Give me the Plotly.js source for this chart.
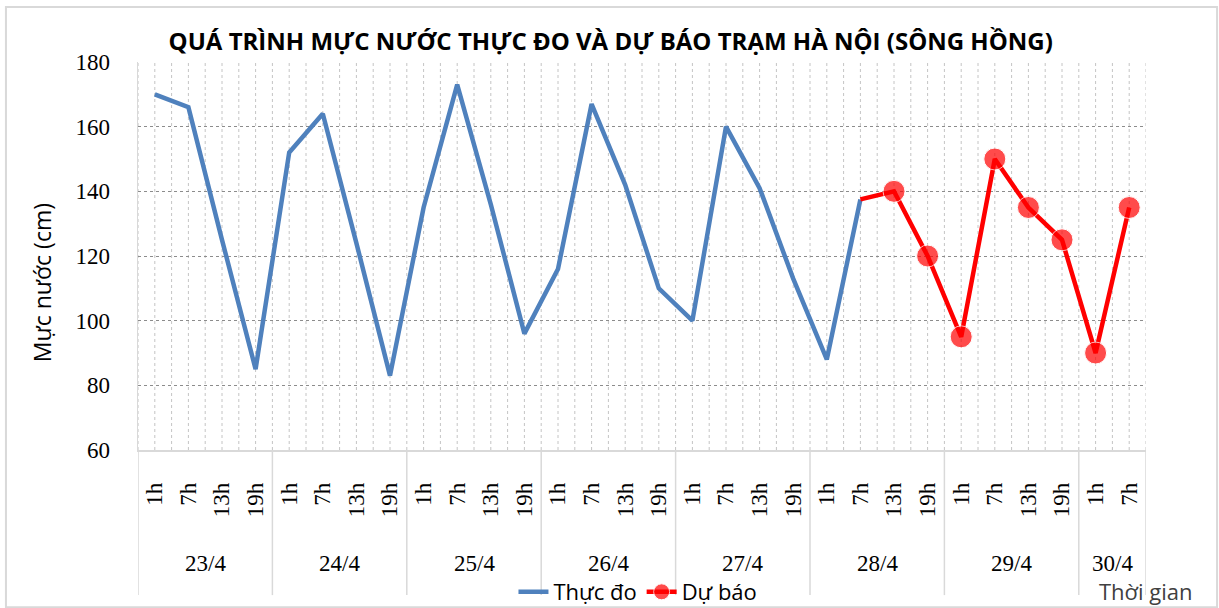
<!DOCTYPE html>
<html>
<head>
<meta charset="utf-8">
<script src="https://cdn.plot.ly/plotly-3.0.1.min.js"></script>
<style>
  html, body { margin: 0; padding: 0; background: #ffffff; }
  #chart { width: 1219px; height: 608px; }
</style>
</head>
<body>
<div id="chart"></div>
<script>
// ---- Data ----
const dates = ['23/4', '24/4', '25/4', '26/4', '27/4', '28/4', '29/4', '30/4'];
const hours = ['1h', '7h', '13h', '19h'];
const hoursPerDate = [4, 4, 4, 4, 4, 4, 4, 2];

// Measured water level (cm), 23/4 1h ... 28/4 7h
const measured = [170, 166, 125, 85, 152, 164, 124, 83, 135, 173, 136, 96,
                  116, 167, 142, 110, 100, 160, 141, 113, 88, 137.5];
// Forecast water level (cm), starting from the last measured point (28/4 7h)
const forecast = [137.5, 140, 120, 95, 150, 135, 125, 90, 135];

const titleText = 'QUÁ TRÌNH MỰC NƯỚC THỰC ĐO VÀ DỰ BÁO TRẠM HÀ NỘI (SÔNG HỒNG)';
const yTitleText = 'Mực nước (cm)';
const xTitleText = 'Thời gian';
const seriesNames = ['Thực đo', 'Dự báo'];

// ---- Build categories ----
const categories = [];
const catHour = [];
const groups = [];
dates.forEach((d, di) => {
  const start = categories.length;
  hours.slice(0, hoursPerDate[di]).forEach(h => {
    categories.push(d + ' ' + h);
    catHour.push(h);
  });
  groups.push({label: d, start: start, end: categories.length - 1});
});

const measuredX = categories.slice(0, measured.length);
const forecastX = categories.slice(measured.length - 1, measured.length - 1 + forecast.length);

const SANS = 'Open Sans, Liberation Sans, Arial, sans-serif';
const SERIF = 'Liberation Serif, DejaVu Serif, serif';

const traces = [
  {
    type: 'scatter', mode: 'lines', name: seriesNames[0],
    x: measuredX, y: measured,
    line: {color: '#4f81bd', width: 4.5},
    hoverinfo: 'x+y'
  },
  {
    type: 'scatter', mode: 'lines+markers', name: seriesNames[1],
    x: forecastX, y: forecast,
    line: {color: '#ff0000', width: 4.5},
    marker: {color: '#ff0000', size: forecast.map((v, i) => i === 0 ? 0 : 22)},
    hoverinfo: 'x+y'
  }
];

// ---- Decorative shapes: vertical dotted grid, group dividers, outer frame ----
const shapes = [];
const nCat = categories.length;
for (let k = 0; k <= 2 * nCat; k++) {
  const xv = -0.5 + k / 2;
  shapes.push({type: 'line', xref: 'x', yref: 'paper', x0: xv, x1: xv, y0: 0, y1: 1,
               layer: 'below', line: {color: '#c4c4c4', width: 1, dash: 'dot'}});
}
const dividerPos = [-0.5].concat(groups.map(g => g.end + 0.5));
dividerPos.forEach(xv => {
  shapes.push({type: 'line', xref: 'x', yref: 'paper', x0: xv, x1: xv, y0: 0, y1: -0.374,
               line: {color: '#d9d9d9', width: 1.5}});
});
shapes.push({type: 'rect', xref: 'paper', yref: 'paper',
             x0: -0.131, x1: 1.0705, y0: -0.405, y1: 1.1418,
             line: {color: '#d9d9d9', width: 2}, layer: 'below'});

// ---- Annotations: date labels, y title, x title ----
const annotations = groups.map(g => ({
  xref: 'x', yref: 'paper', x: (g.start + g.end) / 2, y: -0.292,
  text: g.label, showarrow: false, xanchor: 'center', yanchor: 'middle',
  font: {family: SERIF, size: 23, color: '#000000'}
}));
annotations.push({
  xref: 'paper', yref: 'paper', x: -0.0952, y: 0.43, textangle: -90,
  text: yTitleText, showarrow: false, xanchor: 'center', yanchor: 'middle',
  font: {family: SANS, size: 23, color: '#000000'}
});
annotations.push({
  xref: 'paper', yref: 'paper', x: 1.0, y: -0.364,
  text: xTitleText, showarrow: false, xanchor: 'center', yanchor: 'middle',
  font: {family: SANS, size: 22, color: '#404040'}
});

const layout = {
  width: 1219, height: 608,
  margin: {l: 138, r: 73, t: 62, b: 158, pad: 0, autoexpand: false},
  paper_bgcolor: '#ffffff', plot_bgcolor: '#ffffff',
  showlegend: true,
  title: {
    text: titleText, x: 0.501, xanchor: 'center', y: 0.931, yanchor: 'middle',
    font: {family: SANS, size: 24, color: '#000000', weight: 'bold'}
  },
  xaxis: {
    type: 'category', range: [-0.5, nCat - 0.5],
    tickvals: categories, ticktext: catHour,
    tickangle: -90, ticks: '', showgrid: false, zeroline: false,
    showline: true, linecolor: '#d9d9d9', linewidth: 1.5,
    ticklabelstandoff: 22, automargin: false,
    tickfont: {family: SERIF, size: 23, color: '#000000'},
    fixedrange: true
  },
  yaxis: {
    range: [60, 180], tickvals: [60, 80, 100, 120, 140, 160, 180],
    ticks: '', showgrid: true, gridcolor: '#8c8c8c', griddash: 'dot', gridwidth: 1,
    zeroline: false, showline: true, linecolor: '#d9d9d9', linewidth: 1.5,
    ticklabelstandoff: 22, automargin: false,
    tickfont: {family: SERIF, size: 23, color: '#000000'},
    fixedrange: true
  },
  legend: {
    orientation: 'h', x: 0.496, xanchor: 'center', y: -0.366, yanchor: 'middle',
    font: {family: SANS, size: 22, color: '#000000'},
    bgcolor: 'rgba(0,0,0,0)', itemwidth: 30, tracegroupgap: 0
  },
  shapes: shapes,
  annotations: annotations
};

Plotly.newPlot('chart', traces, layout, {displayModeBar: false, staticPlot: true});
</script>
</body>
</html>
